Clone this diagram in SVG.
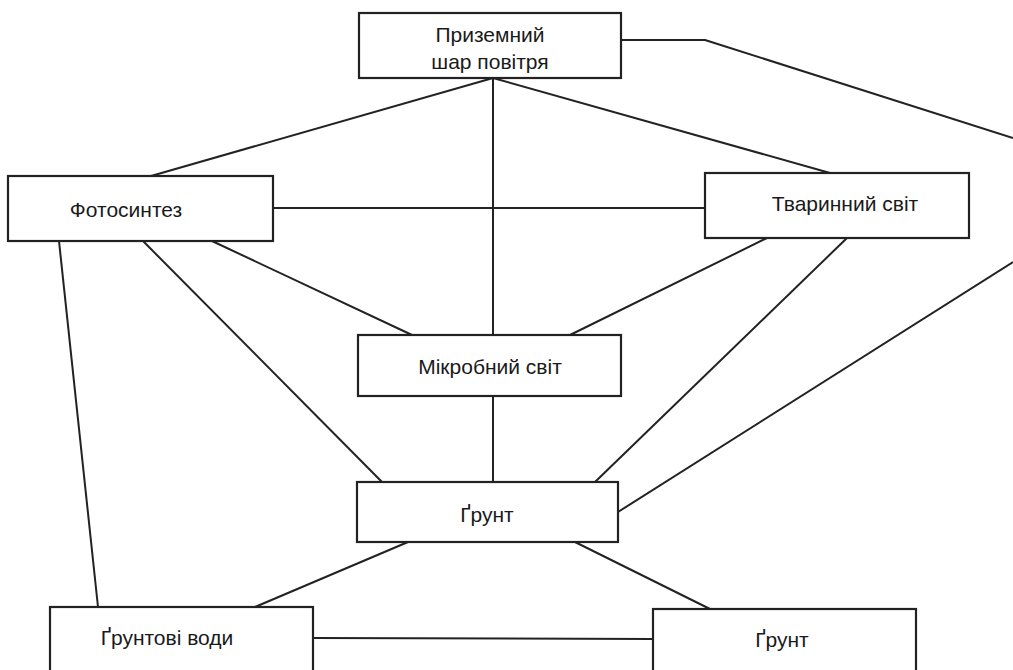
<svg xmlns="http://www.w3.org/2000/svg" width="1013" height="670" viewBox="0 0 1013 670">
<style>
.box{fill:#fff;stroke:#222;stroke-width:2.2}
.ln{fill:none;stroke:#222;stroke-width:2;stroke-linejoin:round}
.t{font-family:"Liberation Sans",Arial,sans-serif;font-size:21px;fill:#1a1a1a;text-anchor:middle}
</style>
<rect width="1013" height="670" fill="#fff"/>
<g id="connectors">
<polyline class="ln" points="621,40 705,40 1013,138"/>
<line class="ln" x1="1013" y1="262" x2="618" y2="512"/>
<line class="ln" x1="493" y1="78" x2="151" y2="176"/>
<line class="ln" x1="493" y1="78" x2="493" y2="335"/>
<line class="ln" x1="493" y1="78" x2="830" y2="173"/>
<line class="ln" x1="273" y1="208" x2="705" y2="208"/>
<line class="ln" x1="212" y1="241" x2="412" y2="335"/>
<line class="ln" x1="767" y1="238" x2="570" y2="335"/>
<line class="ln" x1="143" y1="241" x2="382" y2="482"/>
<line class="ln" x1="847" y1="238" x2="595" y2="482"/>
<line class="ln" x1="493" y1="396" x2="493" y2="482"/>
<line class="ln" x1="59" y1="241" x2="98" y2="607"/>
<line class="ln" x1="408" y1="542" x2="255" y2="607"/>
<line class="ln" x1="575" y1="542" x2="710" y2="609"/>
<line class="ln" x1="313" y1="638" x2="653" y2="639"/>
</g>
<g id="node-air">
<rect class="box" x="359" y="13" width="262" height="65"/>
<text class="t" x="490" y="42">Приземний</text>
<text class="t" x="490" y="69">шар повітря</text>
</g>
<g id="node-photosynthesis">
<rect class="box" x="8" y="176" width="265" height="65"/>
<text class="t" x="126" y="217">Фотосинтез</text>
</g>
<g id="node-animals">
<rect class="box" x="705" y="173" width="264" height="65"/>
<text class="t" x="845" y="211">Тваринний світ</text>
</g>
<g id="node-microbes">
<rect class="box" x="358" y="335" width="263" height="61"/>
<text class="t" x="490" y="374">Мікробний світ</text>
</g>
<g id="node-soil">
<rect class="box" x="357" y="482" width="261" height="60"/>
<text class="t" x="487" y="522">Ґрунт</text>
</g>
<g id="node-groundwater">
<rect class="box" x="50" y="607" width="263" height="70"/>
<text class="t" x="167" y="645">Ґрунтові води</text>
</g>
<g id="node-soil2">
<rect class="box" x="653" y="609" width="263" height="70"/>
<text class="t" x="782" y="647">Ґрунт</text>
</g>
</svg>
